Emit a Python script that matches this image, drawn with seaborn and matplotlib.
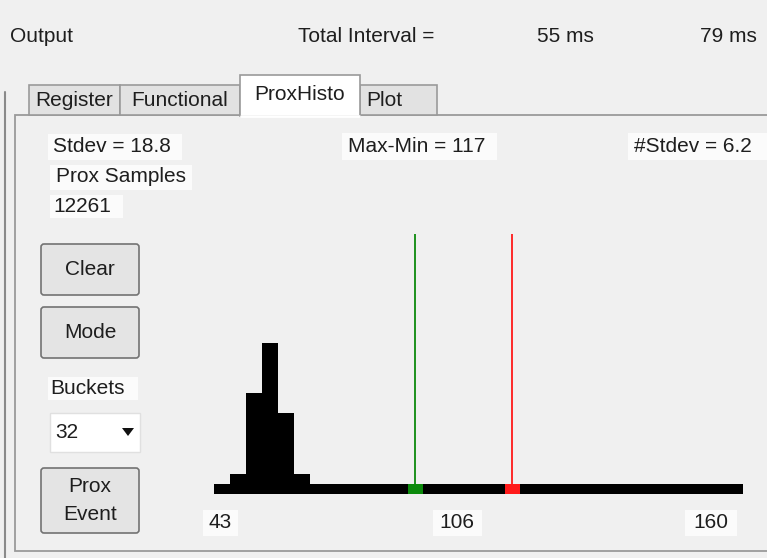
import numpy as np
import pandas as pd
import matplotlib
matplotlib.use('Agg')
import matplotlib.pyplot as plt
from matplotlib.patches import Rectangle, FancyBboxPatch, Polygon
import seaborn as sns

# %%
# values read off the ProxHisto tab
prox_min = 43
prox_max = 160
bucket_counts = [0, 380, 3450, 5350, 2700, 380, 0, 0, 0, 0, 0,
                 0, 0, 0, 0, 0, 0, 0, 0, 0, 0, 0,
                 0, 0, 0, 0, 0, 0, 0, 0, 0, 0, 0]
thresholds = [87.5, 109.0]
threshold_colors = ['#0c8a0c', '#ff1a1a']
axis_labels = ['43', '106', '160']
stdev = 18.8
max_min = 117
n_stdev = 6.2
prox_samples = 12261
n_buckets_setting = 32
intervals = ['55 ms', '79 ms']
tabs = ['Register', 'Functional', 'ProxHisto', 'Plot']

# %%
W, H = 767, 558
BG = '#f0f0f0'
TXT = '#1e1e1e'
sns.set_style('white')
plt.rcParams['font.family'] = ['Liberation Sans', 'DejaVu Sans']
FS = 15

fig = plt.figure(figsize=(W / 100, H / 100), dpi=100)
fig.patch.set_facecolor(BG)
ui = fig.add_axes([0, 0, 1, 1])
ui.set_xlim(0, W)
ui.set_ylim(H, 0)
ui.axis('off')


def label_box(x0, y0, x1, y1, text, tx, ty, ha='left'):
    ui.add_patch(Rectangle((x0, y0), x1 - x0, y1 - y0, facecolor='#fbfbfb', edgecolor='none'))
    ui.text(tx, ty, text, ha=ha, va='center', fontsize=FS, color=TXT)


def button(x0, y0, x1, y1, lines):
    ui.add_patch(FancyBboxPatch((x0 + 3, y0 + 3), x1 - x0 - 6, y1 - y0 - 6,
                                boxstyle='round,pad=3', facecolor='#e4e4e4',
                                edgecolor='#737373', linewidth=1.2))
    cy = (y0 + y1) / 2
    step = 27
    start = cy - step * (len(lines) - 1) / 2
    for i, t in enumerate(lines):
        ui.text((x0 + x1) / 2, start + i * step, t, ha='center', va='center',
                fontsize=FS, color=TXT)


# top status row
ui.text(10, 37, 'Output', ha='left', va='center', fontsize=FS, color=TXT)
ui.text(298, 37, 'Total Interval =', ha='left', va='center', fontsize=FS, color=TXT)
ui.text(537, 37, intervals[0], ha='left', va='center', fontsize=FS, color=TXT)
ui.text(700, 37, intervals[1], ha='left', va='center', fontsize=FS, color=TXT)

# tab page frame
ui.plot([5, 5], [92, H], color='#8a8a8a', lw=1.5)
ui.add_patch(Rectangle((15, 115), W + 10, 436, facecolor=BG, edgecolor='#9a9a9a', lw=1.3))

# tabs
tab_x = [(29, 120), (120, 240), (240, 360), (360, 437)]
for (x0, x1), name in zip(tab_x, tabs):
    if name == 'ProxHisto':
        ui.add_patch(Rectangle((x0, 75), x1 - x0, 41, facecolor='#ffffff',
                               edgecolor='#9a9a9a', lw=1.2, zorder=3))
        ui.plot([x0 + 1, x1 - 1], [115.5, 115.5], color='#ffffff', lw=2, zorder=4)
        ui.text((x0 + x1) / 2, 94, name, ha='center', va='center', fontsize=FS,
                color=TXT, zorder=5)
    else:
        ui.add_patch(Rectangle((x0, 85), x1 - x0, 30, facecolor='#e2e2e2',
                               edgecolor='#9a9a9a', lw=1.2, zorder=2))
        ui.text(x0 + 6 if name == 'Plot' else (x0 + x1) / 2, 101, name,
                ha='left' if name == 'Plot' else 'center', va='center',
                fontsize=FS, color=TXT, zorder=5)

# statistics labels
label_box(48, 134, 182, 160, f'Stdev = {stdev}', 53, 147)
label_box(50, 165, 192, 190, 'Prox Samples', 56, 177)
label_box(50, 195, 123, 218, f'{prox_samples}', 53, 206)
label_box(342, 133, 497, 160, f'Max-Min = {max_min}', 348, 147)
label_box(628, 133, W, 160, f'#Stdev = {n_stdev}', 634, 147)

# controls
button(41, 244, 139, 295, ['Clear'])
button(41, 307, 139, 358, ['Mode'])
label_box(48, 377, 138, 400, 'Buckets', 50, 388)
ui.add_patch(Rectangle((50, 413), 90, 39, facecolor='#ffffff', edgecolor='#e0e0e0', lw=1))
ui.text(55, 432, f'{n_buckets_setting}', ha='left', va='center', fontsize=FS, color=TXT)
ui.add_patch(Polygon([(122, 428), (134, 428), (128, 436)], closed=True,
                     facecolor='#111111', edgecolor='none'))
button(41, 468, 139, 533, ['Prox', 'Event'])

# value labels under the histogram
label_box(203, 510, 238, 536, axis_labels[0], 220, 523, ha='center')
label_box(433, 510, 482, 536, axis_labels[1], 457, 523, ha='center')
label_box(685, 510, 737, 536, axis_labels[2], 711, 523, ha='center')

# %%
# histogram
step = (prox_max - prox_min) / len(bucket_counts)
centers = [prox_min + step * (i + 0.5) for i in range(len(bucket_counts))]
df = pd.DataFrame({'Prox': centers, 'Count': bucket_counts})
base = 380  # drawn floor of every bucket

ax = fig.add_axes([214 / W, (H - 494) / H, 529 / W, 260 / H])
sns.histplot(data=df, x='Prox', weights='Count', bins=len(bucket_counts),
             binrange=(prox_min, prox_max), color='black', alpha=1,
             linewidth=0, ax=ax)
ax.axhspan(-base, 0, color='black', lw=0)
sq_w = (prox_max - prox_min) * 15 / 529
for thr, col in zip(thresholds, threshold_colors):
    ax.axvline(thr, color=col, lw=1.3, zorder=3)
    ax.bar(thr, base, bottom=-base, width=sq_w, color=col, zorder=4, linewidth=0)
ax.set_xlim(prox_min, prox_max)
ax.set_ylim(-base, 9500)
ax.axis('off')
ax.patch.set_alpha(0)

fig.savefig('out.png', dpi=100, facecolor=fig.get_facecolor())
